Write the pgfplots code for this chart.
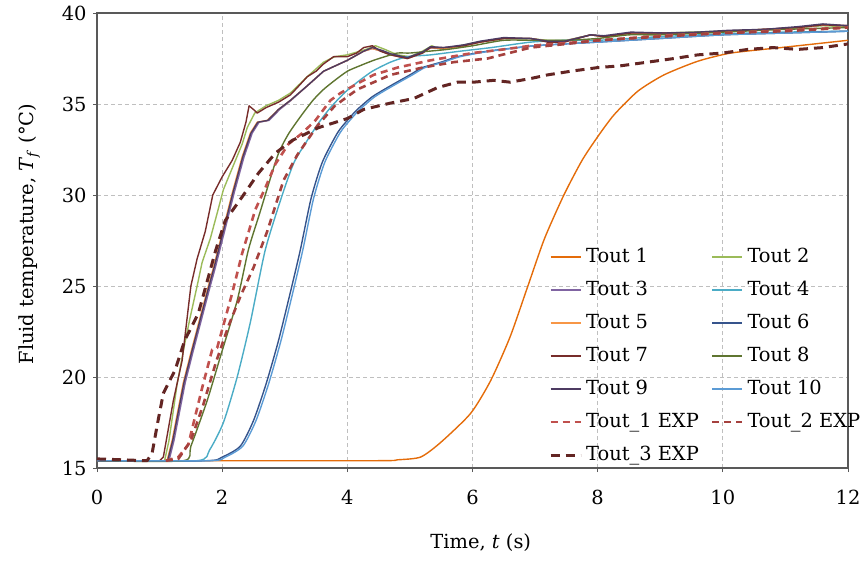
\documentclass[border=0pt]{standalone}
\usepackage{fontspec}
\setmainfont{DejaVu Serif}
\usepackage{pgfplots}
\pgfplotsset{compat=1.18}
\newcommand\myfont{\fontsize{19.5}{23}\selectfont}
\definecolor{c1}{RGB}{228,108,10}
\definecolor{c2}{RGB}{155,187,89}
\definecolor{c3}{RGB}{128,100,162}
\definecolor{c4}{RGB}{75,172,198}
\definecolor{c5}{RGB}{247,150,70}
\definecolor{c6}{RGB}{54,84,140}
\definecolor{c7}{RGB}{119,44,42}
\definecolor{c8}{RGB}{95,117,48}
\definecolor{c9}{RGB}{77,59,98}
\definecolor{c10}{RGB}{91,155,213}
\definecolor{e1}{RGB}{192,80,77}
\definecolor{e2}{RGB}{165,65,62}
\definecolor{e3}{RGB}{99,37,35}
\begin{document}
\begin{tikzpicture}
\begin{axis}[
  name=ax,
  scale only axis, width=751bp, height=455bp,
  xmin=0, xmax=12, ymin=15, ymax=40,
  xtick={0,2,...,12}, ytick={15,20,...,40},
  /pgf/number format/assume math mode=true,
  tick label style={font=\myfont},
  xticklabel style={yshift=-15bp},
  yticklabel style={xshift=-3bp},
  axis line style={draw=black!65, line width=1.2bp},
  tick style={draw=black!65, line width=0.9bp},
  major tick length=4bp, tick align=outside,
  xtick pos=bottom, ytick pos=left,
  grid=major,
  major grid style={dash pattern=on 4bp off 3bp, draw=black!25, line width=0.8bp},
  xlabel={Time, \textit{t} (s)},
  ylabel={Fluid temperature, \textit{T}\textsubscript{\textit{f}} (°C)},
  every axis x label/.style={at={(axis description cs:0.511,-0.176)}, anchor=base, font=\myfont},
  every axis y label/.style={at={(axis description cs:-0.084,0.514)}, rotate=90, anchor=base, font=\myfont},
  legend columns=2,
  legend cell align=left,
  legend image code/.code={\draw[#1] (0bp,0bp) -- (30bp,0bp);},
  legend style={at={(0.602,0.490)}, anchor=north west, draw=none, fill=none,
    font=\myfont, inner sep=0pt, outer sep=0pt,
    nodes={inner xsep=4bp, inner ysep=2bp, text height=15bp, text depth=5bp},
    row sep=9bp,
    /tikz/every even column/.append style={column sep=8bp}},
  every axis plot/.append style={line join=round},
]
% Tout 1
\addplot[c1, line width=1.4bp, smooth, tension=0.4] coordinates {
(0,15.4) (4.4,15.4) (4.8,15.45) (5.17,15.6) (5.49,16.4) (5.97,18.0) (6.29,19.8) (6.6,22.2) (6.88,24.95) (7.15,27.6) (7.46,30.0) (7.75,31.9) (8.0,33.2) (8.26,34.4) (8.64,35.7) (9.06,36.6) (9.6,37.35) (10.13,37.8) (10.93,38.1) (12,38.5)};
% Tout 2
\addplot[c2, line width=1.4bp] coordinates {
(0,15.4) (1.08,15.4) (1.15,16.5) (1.28,19.6) (1.4,21.8) (1.49,23.3) (1.6,25.0) (1.68,26.3) (1.81,27.6) (1.92,29.0) (2.02,30.3) (2.2,31.8) (2.32,32.8) (2.4,33.7) (2.52,34.5) (2.7,34.9) (2.9,35.2) (3.09,35.6) (3.36,36.5) (3.62,37.3) (3.8,37.6) (4.0,37.7) (4.3,38.0) (4.45,38.2) (4.6,38.0) (4.8,37.7) (5.0,37.6) (5.2,37.9) (5.35,38.2) (5.5,38.0) (5.8,38.2) (6.1,38.4) (6.5,38.6) (6.9,38.6) (7.2,38.5) (7.5,38.5) (7.9,38.8) (8.1,38.7) (8.5,38.9) (9,38.9) (10,39.0) (11,39.15) (11.6,39.3) (12,39.25)};
% Tout 3
\addplot[c3, line width=1.4bp] coordinates {
(0,15.4) (1.15,15.4) (1.23,16.5) (1.41,19.7) (1.55,21.6) (1.68,23.3) (1.81,25.0) (1.89,26.0) (2.03,27.9) (2.19,30.1) (2.35,32.1) (2.48,33.4) (2.59,34.0) (2.75,34.1) (2.92,34.7) (3.1,35.2) (3.36,36.0) (3.62,36.8) (4.0,37.4) (4.26,37.9) (4.4,38.05) (4.55,37.9) (4.7,37.7) (4.96,37.5) (5.2,37.8) (5.33,38.1) (5.54,38.05) (5.86,38.2) (6.12,38.4) (6.5,38.6) (6.93,38.6) (7.2,38.45) (7.47,38.45) (7.89,38.8) (8.1,38.7) (8.53,38.9) (9.07,38.9) (9.6,38.9) (10.1,39.0) (10.66,39.1) (11.2,39.2) (11.6,39.35) (12,39.3)};
% Tout 4
\addplot[c4, line width=1.4bp, smooth, tension=0.4] coordinates {
(0,15.4) (1.6,15.4) (1.8,16.0) (2.02,17.5) (2.24,20.0) (2.45,23.0) (2.69,27.0) (2.96,30.0) (3.15,31.8) (3.36,33.0) (3.55,34.0) (3.73,34.8) (3.95,35.6) (4.16,36.2) (4.4,36.8) (4.69,37.3) (4.96,37.6) (5.33,37.7) (5.8,37.9) (6.3,38.1) (6.93,38.4) (7.5,38.5) (8,38.5) (9,38.7) (10,38.85) (11,38.95) (12,39.0)};
% Tout 5
\addplot[c5, line width=1.4bp] coordinates {
(0,15.4) (1.12,15.4) (1.2,16.5) (1.38,19.7) (1.52,21.6) (1.65,23.3) (1.78,25.0) (1.86,26.0) (2.0,27.9) (2.16,30.1) (2.32,32.1) (2.45,33.4) (2.56,34.0) (2.72,34.1) (2.9,34.7) (3.09,35.2) (3.36,36.0) (3.62,36.8) (4.0,37.4) (4.26,37.9) (4.4,38.05) (4.55,37.9) (4.7,37.7) (4.96,37.5) (5.2,37.8) (5.33,38.1) (5.54,38.05) (5.86,38.2) (6.12,38.4) (6.5,38.6) (6.93,38.6) (7.2,38.45) (7.47,38.45) (7.89,38.8) (8.1,38.7) (8.53,38.9) (9.07,38.9) (9.6,38.9) (10.1,39.0) (10.66,39.1) (11.2,39.2) (11.6,39.35) (12,39.3)};
% Tout 6
\addplot[c6, line width=1.4bp, smooth, tension=0.4] coordinates {
(0,15.4) (1.75,15.4) (2.0,15.6) (2.29,16.2) (2.5,17.6) (2.7,19.6) (2.9,22.0) (3.1,24.8) (3.25,27.0) (3.42,29.8) (3.6,31.8) (3.84,33.4) (4.0,34.1) (4.16,34.7) (4.4,35.4) (4.69,36.0) (5.0,36.6) (5.2,37.0) (5.5,37.3) (5.76,37.6) (6.24,37.9) (7,38.2) (8,38.4) (9,38.6) (10,38.8) (11,38.9) (12,39.0)};
% Tout 7
\addplot[c7, line width=1.4bp] coordinates {
(0,15.4) (1.0,15.4) (1.06,15.6) (1.22,18.7) (1.36,20.9) (1.5,25.0) (1.6,26.5) (1.73,28.0) (1.85,30.0) (2.0,31.0) (2.16,31.9) (2.29,32.9) (2.38,34.0) (2.43,34.9) (2.5,34.7) (2.56,34.5) (2.7,34.8) (2.9,35.1) (3.09,35.5) (3.2,35.9) (3.36,36.5) (3.5,36.8) (3.62,37.2) (3.78,37.6) (4.0,37.6) (4.15,37.8) (4.26,38.1) (4.4,38.2) (4.53,37.9) (4.69,37.7) (4.96,37.5) (5.2,37.8) (5.33,38.1) (5.54,38.1) (5.86,38.2) (6.12,38.4) (6.5,38.6) (6.93,38.6) (7.2,38.4) (7.47,38.4) (7.89,38.8) (8.1,38.7) (8.53,38.9) (9.07,38.9) (9.6,38.9) (10.1,39.0) (10.66,39.1) (11.2,39.2) (11.6,39.35) (12,39.3)};
% Tout 8
\addplot[c8, line width=1.4bp, smooth, tension=0.4] coordinates {
(0,15.4) (1.38,15.4) (1.5,16.2) (1.76,18.7) (1.97,21.1) (2.24,24.2) (2.42,27.0) (2.6,29.0) (2.88,32.1) (3.05,33.3) (3.25,34.3) (3.45,35.2) (3.62,35.8) (3.8,36.3) (4.0,36.8) (4.2,37.1) (4.42,37.4) (4.6,37.6) (4.8,37.8) (5.0,37.8) (5.3,37.9) (5.6,38.0) (6.0,38.2) (6.5,38.5) (7.0,38.5) (7.5,38.5) (8,38.6) (8.5,38.8) (9,38.8) (10,38.95) (11,39.1) (12,39.2)};
% Tout 9
\addplot[c9, line width=1.4bp] coordinates {
(0,15.4) (1.13,15.4) (1.21,16.5) (1.39,19.7) (1.53,21.6) (1.66,23.3) (1.79,25.0) (1.87,26.0) (2.01,27.9) (2.17,30.1) (2.33,32.1) (2.46,33.4) (2.57,34.0) (2.73,34.1) (2.9,34.7) (3.09,35.2) (3.36,36.0) (3.62,36.8) (4.0,37.4) (4.26,37.9) (4.4,38.1) (4.55,37.95) (4.7,37.75) (4.96,37.55) (5.2,37.85) (5.33,38.15) (5.54,38.1) (5.86,38.25) (6.12,38.45) (6.5,38.65) (6.93,38.6) (7.2,38.45) (7.47,38.45) (7.89,38.8) (8.1,38.75) (8.53,38.95) (9.07,38.9) (9.6,38.95) (10.1,39.05) (10.66,39.1) (11.2,39.25) (11.6,39.4) (12,39.3)};
% Tout 10
\addplot[c10, line width=1.4bp, smooth, tension=0.4] coordinates {
(0,15.4) (1.8,15.4) (2.05,15.6) (2.33,16.2) (2.54,17.6) (2.74,19.6) (2.94,22.0) (3.14,24.8) (3.29,27.0) (3.46,29.8) (3.64,31.8) (3.88,33.4) (4.04,34.1) (4.2,34.7) (4.44,35.4) (4.73,36.0) (5.04,36.6) (5.24,37.0) (5.54,37.3) (5.8,37.6) (6.28,37.9) (7,38.2) (8,38.4) (9,38.6) (10,38.8) (11,38.9) (12,39.0)};
% Tout_1 EXP
\addplot[e1, line width=2.6bp, dash pattern=on 7bp off 5bp] coordinates {
(1.1,15.4) (1.3,15.6) (1.46,16.3) (1.68,19.4) (1.84,21.5) (1.92,21.6) (2.0,22.6) (2.16,24.6) (2.32,26.8) (2.53,29.2) (2.69,30.4) (2.85,31.7) (3.06,32.8) (3.28,33.4) (3.49,34.1) (3.73,35.2) (3.89,35.6) (4.15,36.1) (4.42,36.6) (4.8,37.0) (5.33,37.4) (6.0,37.8) (6.5,38.0) (6.93,38.2) (7.5,38.35) (8.05,38.5) (9,38.75) (10,38.9) (11,39.05) (12,39.2)};
% Tout_2 EXP
\addplot[e2, line width=2.6bp, dash pattern=on 7bp off 5bp] coordinates {
(1.1,15.4) (1.3,15.5) (1.5,16.5) (1.7,18.5) (1.9,20.8) (2.1,22.8) (2.3,24.5) (2.5,26.0) (2.72,28.0) (2.98,30.8) (3.2,32.2) (3.52,33.8) (3.8,34.9) (4.16,35.8) (4.69,36.6) (5.2,37.0) (5.7,37.3) (6.24,37.5) (6.93,38.1) (7.5,38.3) (8,38.5) (9,38.7) (10,38.9) (11,39.0) (12,39.2)};
% Tout_3 EXP
\addplot[e3, line width=3bp, dash pattern=on 9bp off 6bp] coordinates {
(0,15.5) (0.4,15.45) (0.8,15.4) (0.88,15.8) (0.97,17.5) (1.06,19.1) (1.25,20.4) (1.4,22.0) (1.62,23.5) (1.78,25.5) (1.9,27.0) (2.05,28.6) (2.32,29.9) (2.58,31.2) (2.85,32.3) (3.12,33.0) (3.54,33.7) (4.0,34.2) (4.26,34.7) (4.69,35.05) (5.06,35.3) (5.44,35.9) (5.76,36.2) (6.02,36.2) (6.34,36.3) (6.6,36.2) (6.93,36.4) (7.2,36.6) (7.57,36.8) (8.0,37.0) (8.37,37.1) (8.8,37.3) (9.22,37.5) (9.6,37.7) (10,37.8) (10.4,38.0) (10.8,38.1) (11.2,38.0) (11.6,38.1) (12,38.3)};
\legend{Tout 1, Tout 2, Tout 3, Tout 4, Tout 5, Tout 6, Tout 7, Tout 8, Tout 9, Tout 10, Tout\_1 EXP, Tout\_2 EXP, Tout\_3 EXP}
\end{axis}
\pgfresetboundingbox
\path[use as bounding box] (ax.south west) ++(-97bp,-93bp) rectangle ++(863bp,561bp);
\end{tikzpicture}
\end{document}
